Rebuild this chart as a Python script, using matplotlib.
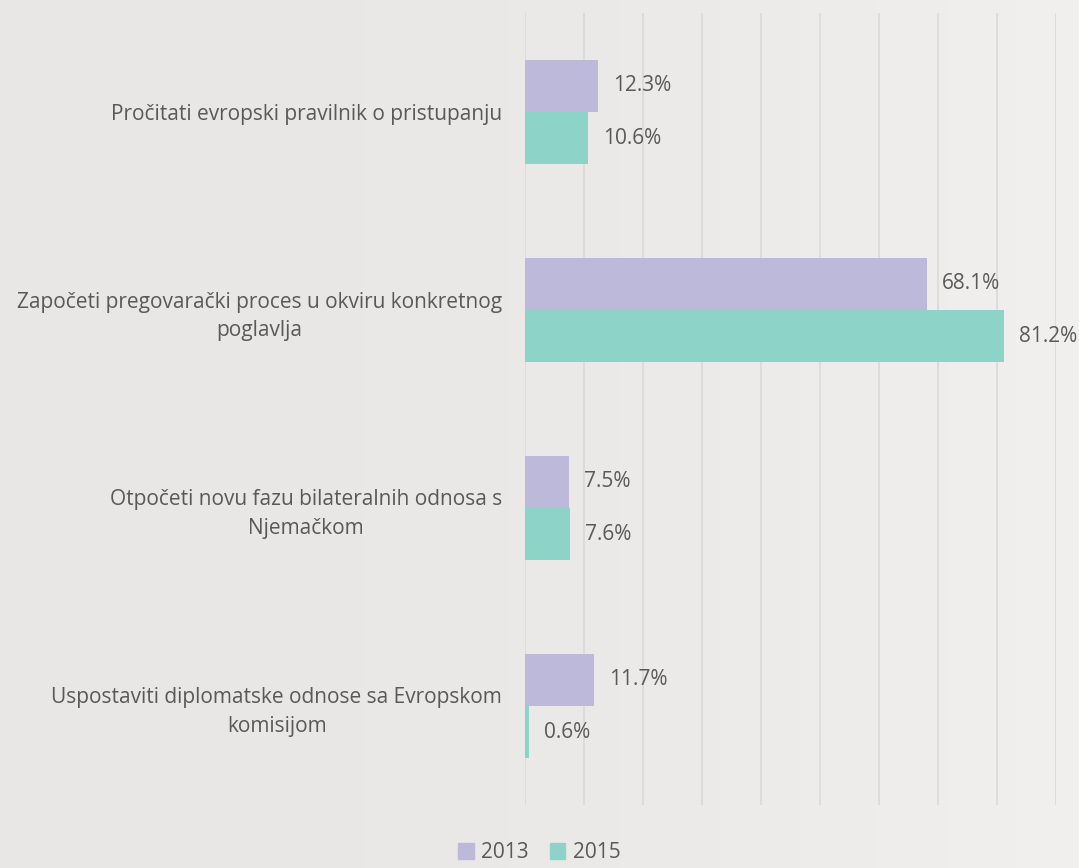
import numpy as np
import matplotlib
matplotlib.use("Agg")
import matplotlib.pyplot as plt
from matplotlib.patches import Patch

# ── podaci ──
categories = [
    "Pročitati evropski pravilnik o pristupanju",
    "Započeti pregovarački proces u okviru konkretnog\npoglavlja",
    "Otpočeti novu fazu bilateralnih odnosa s\nNjemačkom",
    "Uspostaviti diplomatske odnose sa Evropskom\nkomisijom",
]
vals_2013 = [12.3, 68.1, 7.5, 11.7]
vals_2015 = [10.6, 81.2, 7.6, 0.6]
series_names = ["2013", "2015"]
x_ticks = list(range(0, 91, 10))

BG = "#EAE8E6"
C2013 = "#BDB9DA"
C2015 = "#8DD3C7"
TXT = "#595959"
GRID = "#D9D9D9"
FS = 15

plt.rcParams["font.family"] = ["Open Sans", "DejaVu Sans"]

fig = plt.figure(figsize=(10.79, 8.68), dpi=100)
fig.patch.set_facecolor(BG)

# blagi prelaz pozadine prema desno
bg_ax = fig.add_axes([0, 0, 1, 1], zorder=-10)
grad = np.linspace(0, 1, 256)[None, :] ** 2
bg_ax.imshow(grad, aspect="auto", cmap=matplotlib.colors.LinearSegmentedColormap.from_list(
    "bg", ["#E9E7E5", "#F1F0EE"]), extent=[0, 1, 0, 1])
bg_ax.axis("off")

ax = fig.add_axes([0.4866, 0.0726, 0.4921, 0.9124])
ax.patch.set_alpha(0)

y = np.arange(len(categories))
h = 0.263
b1 = ax.barh(y - h / 2, vals_2013, height=h, color=C2013, label=series_names[0], zorder=3)
b2 = ax.barh(y + h / 2, vals_2015, height=h, color=C2015, label=series_names[1], zorder=3)

for bars, vals in [(b1, vals_2013), (b2, vals_2015)]:
    for bar, v in zip(bars, vals):
        ax.annotate(f"{v:.1f}%", (v, bar.get_y() + bar.get_height() / 2),
                    xytext=(15, 0), textcoords="offset pixels",
                    va="center", ha="left", fontsize=FS, color=TXT)

ax.set_xlim(0, 90)
ax.set_ylim(len(categories) - 0.5, -0.5)
ax.set_xticks(x_ticks)
ax.set_xticklabels([])
ax.tick_params(axis="x", length=0)
ax.tick_params(axis="y", length=0, pad=16.5)
ax.set_yticks(y)
ax.set_yticklabels(categories, fontsize=FS, color=TXT)
for t in ax.get_yticklabels():
    t.set_multialignment("center")
    t.set_linespacing(1.45)
ax.grid(True, axis="x", color=GRID, lw=1.2, zorder=0)
for s in ax.spines.values():
    s.set_visible(False)

handles = [Patch(color=C2013, label=series_names[0]), Patch(color=C2015, label=series_names[1])]
fig.legend(handles=handles, loc="lower center", bbox_to_anchor=(0.5, -0.016), ncol=2,
           frameon=False, fontsize=FS, handlelength=0.75, handleheight=0.75,
           handletextpad=0.35, columnspacing=1.0, labelcolor=TXT)

plt.savefig("out.png", dpi=100, facecolor=BG)
plt.close()
